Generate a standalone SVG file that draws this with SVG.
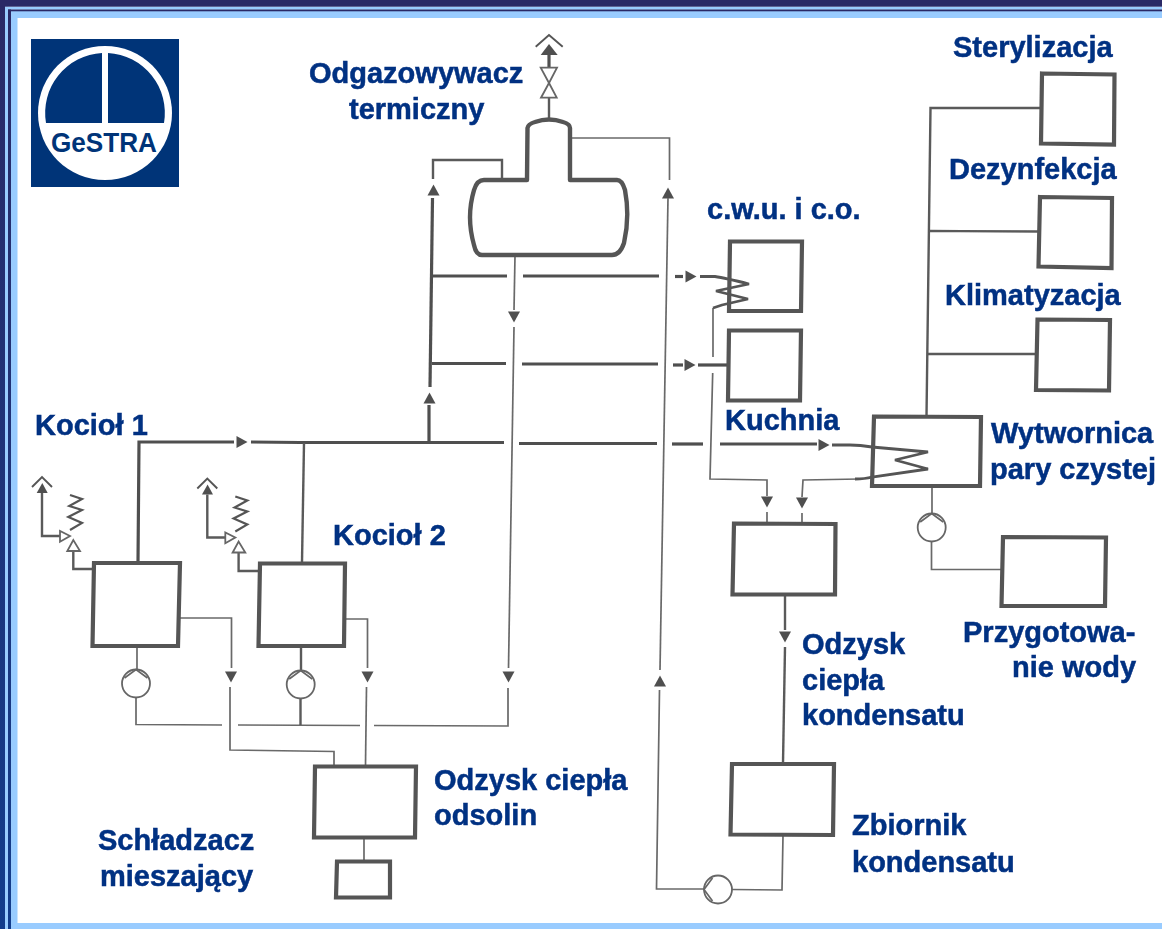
<svg xmlns="http://www.w3.org/2000/svg" xmlns:xlink="http://www.w3.org/1999/xlink" width="1162" height="929" viewBox="0 0 1162 929">
<style>
.lbl{font-family:"Liberation Sans",Arial,sans-serif;font-weight:700;font-size:29px;fill:#003082;stroke:#003082;stroke-width:0.5}
.box{fill:#fff;stroke:#555;stroke-width:4.2;stroke-linejoin:miter}
.vessel{fill:#fff;stroke:#555;stroke-width:4.4;stroke-linejoin:round}
.thin{fill:none;stroke:#696969;stroke-width:1.7}
.mid{fill:none;stroke:#5a5a5a;stroke-width:2.4}
.main{fill:none;stroke:#505050;stroke-width:3.2}
.coil{fill:none;stroke:#555;stroke-width:2.8;stroke-linejoin:miter}
.open{fill:#fff;stroke:#666;stroke-width:1.8}
.fill{fill:#505050}
.pump{fill:#fff;stroke:#666;stroke-width:1.8}
.pl{fill:none;stroke:#666;stroke-width:1.7}
</style>
<defs>
<linearGradient id="edge" x1="0" y1="0" x2="0" y2="1"><stop offset="0" stop-color="#2a2966"/><stop offset="1" stop-color="#123c8c"/></linearGradient>
<filter id="scan" x="0" y="0" width="1162" height="929" filterUnits="userSpaceOnUse"><feGaussianBlur stdDeviation="0.4"/></filter>
<polygon id="arr" class="fill" points="-6,-5.5 6,-5.5 0,5.5"/>
<g id="pumpU"><circle class="pump" r="14"/><path class="pl" d="M-11.5,-5.5 L0,-14 L11.5,-5.5"/></g>
<g id="relief">
<path class="pl" style="stroke:#555;stroke-width:1.9" d="M32,487 L42,477 L52,487"/>
<polygon class="fill" points="36.7,493 42.3,483 47.7,493"/>
<path class="mid" d="M42,493 V536 H60"/>
<polygon class="open" points="60,531 60,541.7 70,536"/>
<polygon class="open" points="67.3,551 80,551 73.3,540"/>
<path class="coil" style="stroke-width:2.2" d="M70,495 L82,499 L69.3,506 L82,510 L68.3,517 L82,523 L70,530"/>
</g>
</defs>

<g id="frame">
<rect width="1162" height="929" fill="#fff"/>
<rect x="0" y="11" width="1162" height="7" fill="#99ccff"/>
<rect x="0" y="923" width="1162" height="6" fill="#99ccff"/>
<rect x="11" y="11" width="6.5" height="918" fill="#99ccff"/>
<rect x="0" y="6.7" width="1162" height="3" fill="#99ccff"/>
<rect x="0" y="9.5" width="1162" height="1.8" fill="#2a2966"/>
<rect x="5" y="6.7" width="3" height="922.3" fill="#99ccff"/>
<rect x="8" y="9.5" width="3" height="919.5" fill="url(#edge)"/>
<rect x="0" y="0" width="5" height="929" fill="url(#edge)"/>
<rect x="0" y="0" width="1162" height="6.7" fill="#2a2966"/>
</g>

<g id="logo">
<rect x="31" y="39" width="148" height="148" fill="#003478"/>
<circle cx="105" cy="113" r="67" fill="#fff"/>
<path fill="#003478" d="M46,123 A60,60 0 0 1 102,53 V123 Z M108,53 A60,60 0 0 1 164,123 H108 Z"/>
<text x="51" y="152" textLength="106" lengthAdjust="spacingAndGlyphs" style="font-family:'Liberation Sans',Arial,sans-serif;font-weight:700;font-size:28px;fill:#003478">GeSTRA</text>
</g>

<g id="connectors" filter="url(#scan)">
<!-- steam main -->
<path class="main" d="M138,562 L139,442 H234"/>
<path class="main" d="M251,442 L300,442.5 H504"/>
<path class="main" d="M519,443.5 H657"/>
<path class="main" d="M672,444 H703"/>
<path class="main" d="M720,444 H817"/>
<use href="#arr" transform="translate(242,442) rotate(-90)"/>
<use href="#arr" transform="translate(824,445) rotate(-90)"/>
<path class="mid" d="M302,562 L304,443"/>
<!-- header -->
<path class="main" d="M429,443 V405"/>
<use href="#arr" transform="translate(429.5,398) rotate(180)"/>
<path class="main" d="M430,387 L432.5,198"/>
<use href="#arr" transform="translate(433.5,190) rotate(180)"/>
<path class="mid" d="M433,179 V160 H502 V180"/>
<path class="main" d="M433,276 H507"/>
<path class="main" d="M523,276 H659"/>
<path class="main" d="M675,276.5 H683"/>
<use href="#arr" transform="translate(691,276.5) rotate(-90)"/>
<path class="main" d="M432,363.5 H506"/>
<path class="main" d="M522,364 H658"/>
<path class="main" d="M673,365 H683"/>
<use href="#arr" transform="translate(690,365) rotate(-90)"/>
<path class="main" d="M698,365 H729"/>
<!-- drain from deaerator -->
<path class="thin" d="M515,256 L514,310"/>
<use href="#arr" transform="translate(514,317)"/>
<path class="thin" d="M514,327 L508.5,668"/>
<use href="#arr" transform="translate(508.5,677)"/>
<path class="thin" d="M508,688 V726 L374,725.5"/>
<path class="thin" d="M360,725.5 L238,725"/>
<path class="thin" d="M222,725 L136,724.5 V698"/>
<path class="thin" d="M137,647 V670"/>
<path class="mid" d="M301,648 V670"/>
<path class="mid" d="M300.5,698 V725"/>
<!-- blowdown -->
<path class="thin" d="M180,618 H231.5 V668"/>
<use href="#arr" transform="translate(231,677)"/>
<path class="thin" d="M230,687 V750 L334,751.5 V765"/>
<path class="thin" d="M345,619 H367.5 V668"/>
<use href="#arr" transform="translate(367.5,677)"/>
<path class="thin" d="M366.5,687 L365.5,765"/>
<path class="thin" d="M364,839 V860"/>
<!-- return to deaerator -->
<path class="thin" d="M571,138 H669.5 V180"/>
<use href="#arr" transform="translate(668,193) rotate(180)"/>
<path class="thin" d="M668,198 L660,670"/>
<use href="#arr" transform="translate(660,681) rotate(180)"/>
<path class="thin" d="M659.5,690 L656.5,889 H704"/>
<path class="thin" d="M732,889.5 L782,890 L783,836"/>
<path class="mid" d="M785,596 V630"/>
<use href="#arr" transform="translate(785,637)"/>
<path class="mid" d="M785,647 L783,763"/>
<!-- process steam -->
<path class="mid" d="M926.5,416 L930.5,108 H1041"/>
<path class="mid" d="M929,231 L1039,231.5"/>
<path class="mid" d="M927,354 H1037"/>
<path class="thin" d="M932,488 V513"/>
<path class="thin" d="M931.5,541 V569.5 H1002"/>
<!-- coil outlets -->
<path class="thin" d="M713,308 V357"/>
<path class="thin" d="M712.7,373 L710,479 L767,480 V496"/>
<use href="#arr" transform="translate(767,502)"/>
<path class="thin" d="M767,512 V522"/>
<path class="thin" d="M860,479 L803,480 L802,497"/>
<use href="#arr" transform="translate(802,503)"/>
<path class="thin" d="M802,513 V522"/>
<!-- top vent -->
<path class="mid" d="M549,119 V98"/>
<path class="main" d="M549,67 V55"/>
<!-- boiler-to-relief -->
<path class="mid" d="M73.3,551 V569 H93"/>
<path class="mid" d="M238.6,552.5 V571 H259"/>
</g>

<g id="boiler1" filter="url(#scan)">
<polygon class="box" points="94,563 180,563 178,646 92.5,646"/>
<use href="#relief"/>
<text class="lbl" x="35" y="435">Kocioł 1</text>
<use href="#pumpU" x="136" y="683.5"/>
</g>
<g id="boiler2" filter="url(#scan)">
<polygon class="box" points="260,563.5 345,563.5 344,646 258.5,646"/>
<use href="#relief" transform="translate(165.3,1.5)"/>
<text class="lbl" x="333" y="545">Kocioł 2</text>
<use href="#pumpU" x="300.7" y="684.5"/>
</g>
<g id="deaerator" filter="url(#scan)">
<path class="vessel" d="M527,180 L527.5,128 Q528,124 535,122 Q549,117 563,122 Q570,124 570,128 L570,180 L617,180 Q622,180 625,190 Q630,217 624,243 Q620,255 612,255 L482,255 Q476,255 474,245 Q466,217 474,190 Q477,180 484,180 Z"/>
<polygon class="open" points="540.7,67.7 557,67.7 549,83"/>
<polygon class="open" points="541,97.7 556.7,97.7 549,83"/>
<polygon class="fill" points="540.7,55 557.7,55 549,44"/>
<path class="pl" style="stroke:#555;stroke-width:1.9" d="M535.7,46.7 L549,35 L562.7,46.7"/>
<text class="lbl" x="309" y="83">Odgazowywacz</text>
<text class="lbl" x="349" y="119">termiczny</text>
</g>
<g id="cwu" filter="url(#scan)">
<polygon class="box" points="730,241.5 802,241.5 801,311 729,311"/>
<path class="coil" d="M700,276.5 H715 Q725,278 749,284 L716,291 L748,299 L722,305 L713,308"/>
<text class="lbl" x="707" y="219">c.w.u. i c.o.</text>
</g>
<g id="kuchnia" filter="url(#scan)">
<polygon class="box" points="729,330.5 801,330.5 800,400.5 728,400.5"/>
<text class="lbl" x="725" y="430">Kuchnia</text>
</g>
<g id="wytwornica" filter="url(#scan)">
<polygon class="box" points="874,416.5 981,417 980,486 872,486"/>
<path class="coil" d="M832,445 H850 Q860,445 872,447 L928,452 L895,460 L928,469 L872,477 Q865,479 855,479"/>
<text class="lbl" x="991" y="443">Wytwornica</text>
<text class="lbl" x="990" y="479">pary czystej</text>
<use href="#pumpU" x="931.7" y="527.5"/>
</g>
<g id="sterylizacja" filter="url(#scan)">
<polygon class="box" points="1042,73.5 1114.5,74.5 1114,144.5 1041,143.5"/>
<text class="lbl" x="953" y="57">Sterylizacja</text>
</g>
<g id="dezynfekcja" filter="url(#scan)">
<polygon class="box" points="1040,197 1112,198 1111.5,268 1038.5,266.5"/>
<text class="lbl" x="949" y="179">Dezynfekcja</text>
</g>
<g id="klimatyzacja" filter="url(#scan)">
<polygon class="box" points="1037.5,319.5 1110,320 1109,390.5 1036,390"/>
<text class="lbl" x="945" y="305">Klimatyzacja</text>
</g>
<g id="odzysk-kondensatu" filter="url(#scan)">
<polygon class="box" points="734,523.5 835.5,524 835,594.5 732.5,594.5"/>
<text class="lbl" x="802" y="654">Odzysk</text>
<text class="lbl" x="802" y="690">ciepła</text>
<text class="lbl" x="802" y="725">kondensatu</text>
</g>
<g id="przygotowanie" filter="url(#scan)">
<polygon class="box" points="1003,537 1106,537.5 1105,606 1001.5,606"/>
<text class="lbl" x="963" y="642">Przygotowa-</text>
<text class="lbl" x="1012" y="677">nie wody</text>
</g>
<g id="zbiornik" filter="url(#scan)">
<polygon class="box" points="732,764 834,764 833,835 730.5,834.5"/>
<text class="lbl" x="852" y="835">Zbiornik</text>
<text class="lbl" x="852" y="872">kondensatu</text>
<g transform="translate(718,889.5) rotate(-90)"><use href="#pumpU"/></g>
</g>
<g id="odzysk-odsolin" filter="url(#scan)">
<polygon class="box" points="315,766.5 416,766.5 415,837.5 314,837.5"/>
<text class="lbl" x="434" y="790">Odzysk ciepła</text>
<text class="lbl" x="434" y="825">odsolin</text>
</g>
<g id="schladzacz" filter="url(#scan)">
<polygon class="box" points="337,861.5 390,861.5 390,897.5 336,897.5"/>
<text class="lbl" x="98" y="850">Schładzacz</text>
<text class="lbl" x="100" y="886">mieszający</text>
</g>
</svg>
